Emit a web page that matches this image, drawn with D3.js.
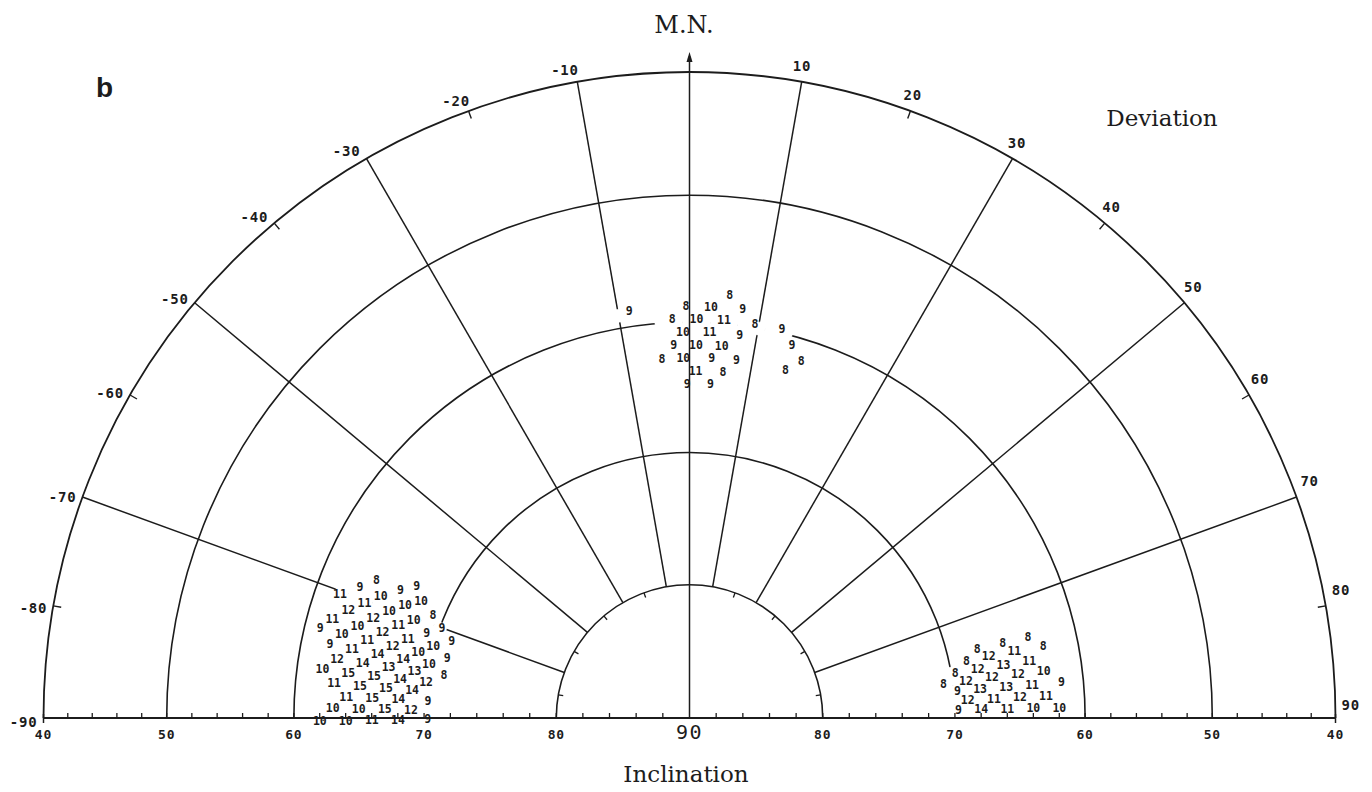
<!DOCTYPE html>
<html><head><meta charset="utf-8">
<script src="https://cdn.jsdelivr.net/npm/d3@7"></script>
<style>
html,body{margin:0;padding:0;background:#fff;}
svg{display:block;background:#fff;}
</style></head>
<body><svg id="chart" width="1372" height="792"></svg>
<script>
// ---------------- data ----------------
const inclinationArcs = [40, 50, 60, 70, 80];
const radialDeviations = [-70, -50, -30, -10, 10, 30, 50, 70];
const deviationLabels = [-90, -80, -70, -60, -50, -40, -30, -20, -10, 10, 20, 30, 40, 50, 60, 70, 80, 90];
const outerTickDeviations = [-90, -80, -60, -40, -20, 20, 40, 60, 80, 90];
const innerTickDeviations = [-80, -60, -40, -20, 20, 40, 60, 80];
const inclinationLabels = [40, 50, 60, 70, 80];
const baseTickInclinations = d3.range(42, 90, 2);

// [deviation, inclination, count]
const clusterNorth = [
  [5,58,8],
  [-9,59,9],[-1,59,8],[3,59,10],[7,59,9],
  [-3,60,8],[1,60,10],[5,60,11],[9,60,8],[13,60,9],
  [-1,61,10],[3,61,11],[7,61,9],[15,61,9],
  [-3,62,9],[1,62,10],[5,62,10],[17,62,8],
  [-5,63,8],[-1,63,10],[3,63,9],[7,63,9],[15,63,8],
  [1,64,11],[5,64,8],
  [-1,65,9],[3,65,9]
];
const clusterWest = [
  [-77,61,9],
  [-71,62,11],[-75,62,11],[-79,62,9],[-83,62,10],[-91,62,10],
  [-69,63,9],[-73,63,12],[-77,63,10],[-81,63,12],[-85,63,11],[-89,63,10],
  [-67,64,8],[-71,64,11],[-75,64,10],[-79,64,11],[-83,64,15],[-87,64,11],[-91,64,10],
  [-69,65,10],[-73,65,12],[-77,65,11],[-81,65,14],[-85,65,15],[-89,65,10],
  [-67,66,9],[-71,66,10],[-75,66,12],[-79,66,14],[-83,66,15],[-87,66,15],[-91,66,11],
  [-65,67,9],[-69,67,10],[-73,67,11],[-77,67,12],[-81,67,13],[-85,67,15],[-89,67,15],
  [-67,68,10],[-71,68,10],[-75,68,11],[-79,68,14],[-83,68,14],[-87,68,14],[-91,68,14],
  [-69,69,8],[-73,69,9],[-77,69,10],[-81,69,13],[-85,69,14],[-89,69,12],
  [-71,70,9],[-75,70,10],[-79,70,10],[-83,70,12],[-87,70,9],[-91,70,9],
  [-73,71,9],[-77,71,9],[-81,71,8]
];
const clusterEast = [
  [85,62,9],[89,62,10],
  [79,63,8],[83,63,10],[87,63,11],
  [77,64,8],[81,64,11],[85,64,11],[89,64,10],
  [79,65,11],[83,65,12],[87,65,12],
  [77,66,8],[81,66,13],[85,66,13],[89,66,11],
  [79,67,12],[83,67,12],[87,67,11],
  [77,68,8],[81,68,12],[85,68,13],[89,68,14],
  [79,69,8],[83,69,12],[87,69,12],
  [81,70,8],[85,70,9],[89,70,9],
  [83,71,8]
];

// ---------------- layout / scales ----------------
const cx = 689.5, cy = 718, R = 646;
const rad = Math.PI / 180;
const ink = "#1c1c1c";
// equal-area projection: radius proportional to sin((90 - I)/2)
const rLin = d3.scaleLinear().domain([0, Math.sin(25 * rad)]).range([0, R]);
const r = inc => rLin(Math.sin((90 - inc) / 2 * rad));
const aScale = d3.scaleLinear().domain([-90, 90]).range([-Math.PI / 2, Math.PI / 2]);
const pt = (dev, inc) => { const p = d3.pointRadial(aScale(dev), r(inc)); return [cx + p[0], cy + p[1]]; };
const ptR = (dev, rr) => { const p = d3.pointRadial(aScale(dev), rr); return [cx + p[0], cy + p[1]]; };

const svg = d3.select("#chart");
const g = svg.append("g");

// arcs of equal inclination
g.selectAll("path.arc").data(inclinationArcs).join("path")
  .attr("class", "arc")
  .attr("d", inc => { const p = d3.path(); p.arc(cx, cy, r(inc), Math.PI, 2 * Math.PI); return p.toString(); })
  .attr("fill", "none").attr("stroke", ink).attr("stroke-width", inc => inc === 40 ? 1.8 : 1.6);

// radial lines
g.selectAll("line.rad").data(radialDeviations).join("line")
  .attr("class", "rad")
  .attr("x1", d => pt(d, 80)[0]).attr("y1", d => pt(d, 80)[1])
  .attr("x2", d => pt(d, 40)[0]).attr("y2", d => pt(d, 40)[1])
  .attr("stroke", ink).attr("stroke-width", 1.5);

// outer ticks (inward)
g.selectAll("line.otick").data(outerTickDeviations).join("line")
  .attr("x1", d => ptR(d, R)[0]).attr("y1", d => ptR(d, R)[1])
  .attr("x2", d => ptR(d, R - 8)[0]).attr("y2", d => ptR(d, R - 8)[1])
  .attr("stroke", ink).attr("stroke-width", 1.4);

// inner arc ticks (inward)
g.selectAll("line.itick").data(innerTickDeviations).join("line")
  .attr("x1", d => pt(d, 80)[0]).attr("y1", d => pt(d, 80)[1])
  .attr("x2", d => ptR(d, r(80) - 5)[0]).attr("y2", d => ptR(d, r(80) - 5)[1])
  .attr("stroke", ink).attr("stroke-width", 1.3);

// blank cells behind the counts
const allCells = clusterNorth.concat(clusterWest, clusterEast);
const cellArc = d3.arc()
  .innerRadius(d => r(d[1] + 0.5)).outerRadius(d => r(d[1] - 0.5))
  .startAngle(d => aScale(d[0] - 2)).endAngle(d => aScale(d[0] + 2));
g.append("g").attr("transform", `translate(${cx},${cy})`)
  .selectAll("path").data(allCells).join("path")
  .attr("d", cellArc).attr("fill", "#fff").attr("stroke", "#fff").attr("stroke-width", 0.6);

// M.N. axis with arrow
g.append("line")
  .attr("x1", cx).attr("y1", cy).attr("x2", cx).attr("y2", cy - R - 16)
  .attr("stroke", ink).attr("stroke-width", 1.5);
g.append("path")
  .attr("d", `M${cx},${cy - R - 20} L${cx - 3},${cy - R - 10} L${cx + 3},${cy - R - 10} Z`)
  .attr("fill", ink);

// baseline + inclination ticks
g.append("line")
  .attr("x1", cx - R).attr("y1", cy).attr("x2", cx + R).attr("y2", cy)
  .attr("stroke", ink).attr("stroke-width", 1.8);
const baseTicks = baseTickInclinations.flatMap(i => [-1, 1].map(s => ({ i, s })));
g.selectAll("line.btick").data(baseTicks).join("line")
  .attr("x1", d => cx + d.s * r(d.i)).attr("x2", d => cx + d.s * r(d.i))
  .attr("y1", cy).attr("y2", cy - 5)
  .attr("stroke", ink).attr("stroke-width", 1.3);
g.selectAll("line.etick").data([-1, 1]).join("line")
  .attr("x1", s => cx + s * R).attr("x2", s => cx + s * R)
  .attr("y1", cy - 4).attr("y2", cy + 5)
  .attr("stroke", ink).attr("stroke-width", 1.5);

// counts
g.append("g").selectAll("text").data(allCells).join("text")
  .attr("x", d => pt(d[0], d[1])[0] + 7)
  .attr("y", d => pt(d[0], d[1])[1] - 3.5)
  .attr("text-anchor", "end").attr("dominant-baseline", "central")
  .attr("font-family", "DejaVu Sans Mono, monospace").attr("font-size", 11.5).attr("font-weight", "bold")
  .attr("fill", ink)
  .text(d => d[2]);

// deviation labels
g.selectAll("text.dev").data(deviationLabels).join("text")
  .attr("class", "dev")
  .attr("x", d => {
    const [x] = ptR(d, R);
    if (d > 0) return x + (d >= 80 ? 6 : -9 + 15 * (d - 10) / 70);
    return x + (Math.abs(d) <= 20 ? 1.5 : -6);
  })
  .attr("y", d => {
    const [, y] = ptR(d, R);
    if (d > 0) return y + (d === 90 ? -8 : -11);
    return y - 9 + 0.2 * Math.abs(d);
  })
  .attr("text-anchor", d => d > 0 ? "start" : "end")
  .attr("font-family", "DejaVu Sans Mono, monospace").attr("font-size", 14).attr("font-weight", "bold")
  .attr("letter-spacing", 0.8)
  .attr("fill", ink)
  .text(d => d);

// inclination labels
const incLab = inclinationLabels.flatMap(i => [-1, 1].map(s => ({ i, s })));
g.selectAll("text.inc").data(incLab).join("text")
  .attr("x", d => cx + d.s * r(d.i)).attr("y", cy + 16)
  .attr("text-anchor", "middle").attr("dominant-baseline", "central")
  .attr("font-family", "DejaVu Sans Mono, monospace").attr("font-size", 13).attr("font-weight", "bold")
  .attr("letter-spacing", 0.8)
  .attr("fill", ink)
  .text(d => d.i);
g.append("text").attr("x", cx).attr("y", cy + 14)
  .attr("text-anchor", "middle").attr("dominant-baseline", "central")
  .attr("font-family", "DejaVu Sans Mono, monospace").attr("font-size", 20)
  .attr("letter-spacing", 1.5)
  .attr("fill", ink).text("90");

// titles
g.append("text").attr("x", 684).attr("y", 33).attr("text-anchor", "middle")
  .attr("font-family", "DejaVu Serif, serif").attr("font-size", 24).attr("fill", ink).text("M.N.");
g.append("text").attr("x", 1162).attr("y", 126).attr("text-anchor", "middle")
  .attr("font-family", "DejaVu Serif, serif").attr("font-size", 23).attr("fill", ink).text("Deviation");
g.append("text").attr("x", 686).attr("y", 782).attr("text-anchor", "middle")
  .attr("font-family", "DejaVu Serif, serif").attr("font-size", 23).attr("fill", ink).text("Inclination");
g.append("text").attr("x", 96).attr("y", 97)
  .attr("font-family", "Liberation Sans, Arial, sans-serif").attr("font-size", 28).attr("font-weight", "bold")
  .attr("fill", ink).text("b");
</script>
</body></html>
